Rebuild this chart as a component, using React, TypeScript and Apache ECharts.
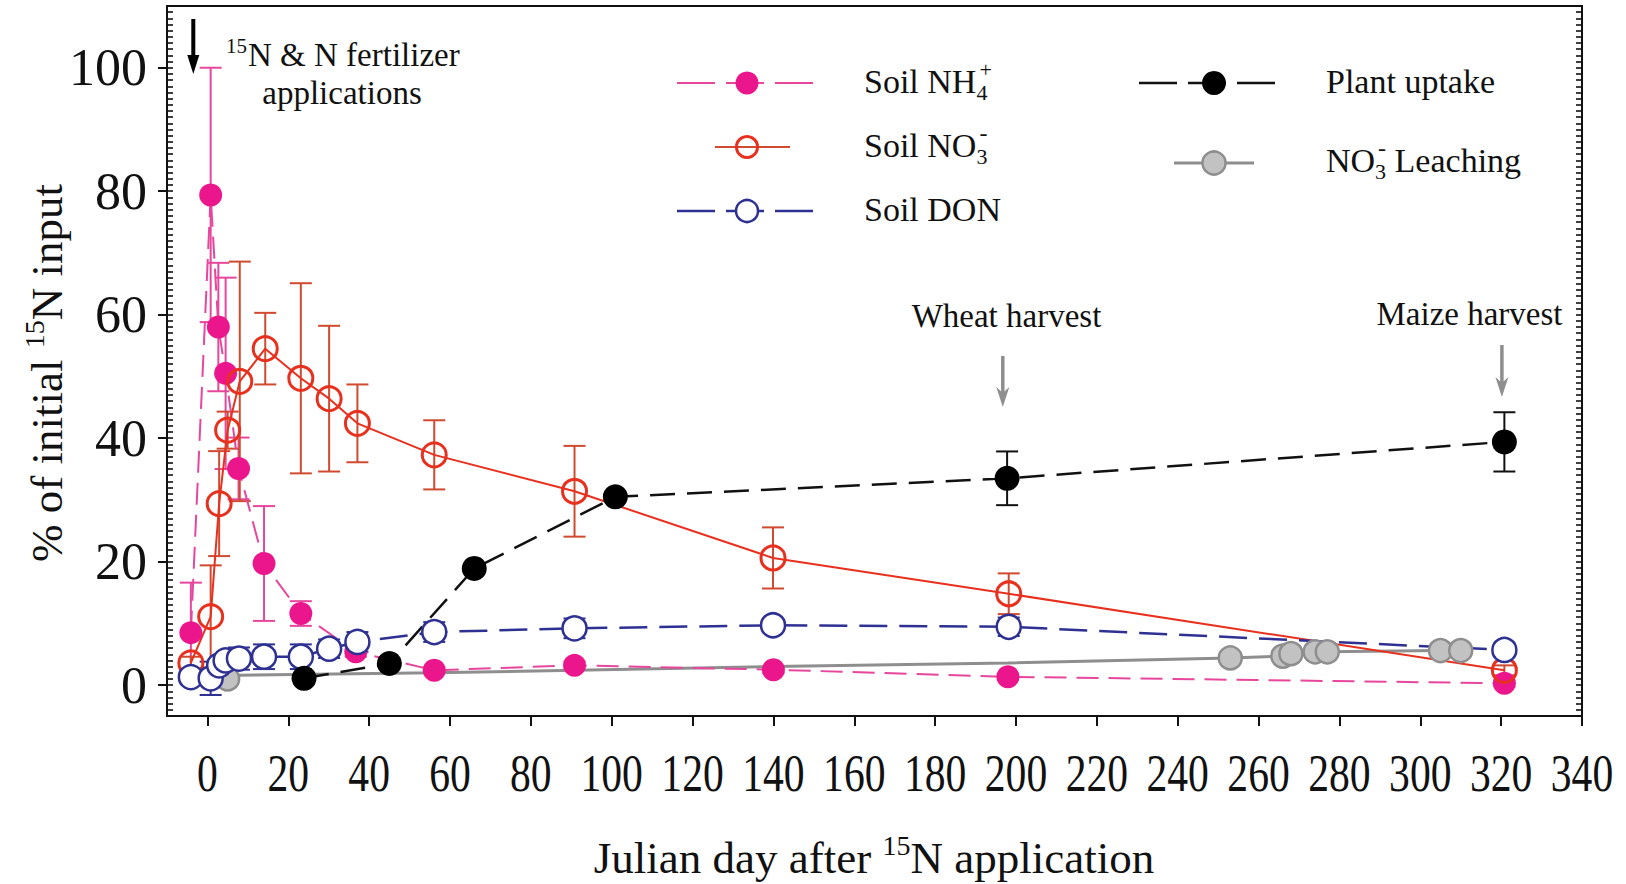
import React, { useEffect, useRef } from "react";
import * as echarts from "echarts";

const SERIF = '"Liberation Serif", "Times New Roman", Times, serif';

// Axis tick positions
const X_TICKS = [0, 20, 40, 60, 80, 100, 120, 140, 160, 180, 200, 220, 240, 260, 280, 300, 320, 340];
const Y_TICKS = [0, 20, 40, 60, 80, 100];

// Soil NH4+ (% of initial 15N input), mean and SD
const nh4Day = [-4.1, 0.8, 2.7, 4.5, 7.7, 14.0, 23.1, 36.7, 56.1, 90.8, 140.0, 198.0, 320.8];
const nh4Pct = [8.5, 79.4, 58.0, 50.5, 35.1, 19.7, 11.6, 5.4, 2.4, 3.2, 2.5, 1.35, 0.3];
const nh4Sd = [8.1, 20.6, 10.4, 15.5, 5.0, 9.3, 2.0, 0.8, 0.5, 0.6, 0.5, 0.5, 0.5];

// Soil NO3-
const no3Day = [-4.1, 0.8, 2.9, 5.0, 8.0, 14.3, 23.1, 30.1, 37.1, 56.1, 90.8, 139.9, 198.2, 320.8];
const no3Pct = [3.6, 11.1, 29.4, 41.3, 49.2, 54.5, 49.7, 46.4, 42.4, 37.3, 31.4, 20.6, 14.8, 2.4];
const no3Sd = [1.0, 8.3, 8.5, 3.0, 19.4, 5.8, 15.4, 11.8, 6.3, 5.6, 7.35, 4.95, 3.3, 0.8];

// Soil DON
const donDay = [-4.1, 0.8, 2.9, 4.5, 7.8, 14.0, 23.1, 30.1, 37.1, 56.1, 90.8, 139.9, 198.2, 320.8];
const donPct = [1.3, 1.1, 3.2, 4.0, 4.3, 4.6, 4.6, 5.9, 7.0, 8.6, 9.2, 9.7, 9.45, 5.7];
const donSd = [0.5, 2.7, 0.8, 0.8, 1.8, 2.0, 2.0, 1.5, 1.6, 1.6, 1.6, 1.0, 1.5, 0.8];

// Plant uptake
const plantDay = [23.9, 45.0, 66.0, 100.9, 197.8, 320.8];
const plantPct = [1.1, 3.5, 18.9, 30.5, 33.5, 39.4];
const plantSd = [0, 0, 0, 0, 4.35, 4.8];

// NO3- leaching (cumulative); unmarked entries are bends of the trace
const leachDay = [5, 8, 56, 91, 140, 198, 253, 266, 268, 274, 277, 305, 310];
const leachPct = [1.0, 1.6, 2.0, 2.4, 3.0, 3.6, 4.4, 4.7, 5.1, 5.4, 5.4, 5.6, 5.6];
const leachMarked = [true, false, false, false, false, false, true, true, true, true, true, true, true];

const PINK = "#ec168c";
const PINK_LINE = "#e6479d";
const RED = "#e8301e";
const RED_BAR = "#d04a30";
const NAVY = "#2e3192";
const GRAY_FILL = "#c2c2c2";
const GRAY_EDGE = "#8e8e8e";
const INK = "#111";

let measureCtx: CanvasRenderingContext2D | null = null;
function textWidth(t: string, size: number): number {
  if (!measureCtx) measureCtx = document.createElement("canvas").getContext("2d");
  measureCtx!.font = `${size}px ${SERIF}`;
  return measureCtx!.measureText(t).width;
}

function textStyle(text: string, size: number, fill: string, align: string) {
  return {
    text,
    fontSize: size,
    fontFamily: SERIF,
    fill,
    align,
    verticalAlign: "middle",
    textAlign: align,
    textVerticalAlign: "middle",
  };
}

type Run = { t: string; size: number; dy?: number; dx?: number; advance?: boolean };

function runs(items: Run[], x: number, y: number, anchor: "left" | "center", fill: string) {
  const widths = items.map((r) => textWidth(r.t, r.size));
  let total = 0;
  items.forEach((r, i) => {
    total += (r.dx || 0) + (r.advance === false ? 0 : widths[i]);
  });
  let cx = anchor === "center" ? x - total / 2 : x;
  return items.map((r, i) => {
    cx += r.dx || 0;
    const el = { type: "text", x: cx, y: y + (r.dy || 0), silent: true, style: textStyle(r.t, r.size, fill, "left") };
    if (r.advance !== false) cx += widths[i];
    return el;
  });
}

function errorSeries(days: number[], mean: number[], sd: number[], color: string) {
  const data = days
    .map((d, i) => [d, mean[i] - sd[i], mean[i] + sd[i], sd[i]])
    .filter((v) => v[3] > 0);
  return {
    type: "custom",
    silent: true,
    data,
    encode: { x: 0, y: [1, 2] },
    renderItem: (_p: any, api: any) => {
      const x = api.value(0);
      const top = api.coord([x, api.value(2)]);
      const bot = api.coord([x, api.value(1)]);
      const hw = 11;
      const style = { stroke: color, lineWidth: 2 };
      return {
        type: "group",
        children: [
          { type: "line", shape: { x1: top[0], y1: top[1], x2: bot[0], y2: bot[1] }, style },
          { type: "line", shape: { x1: top[0] - hw, y1: top[1], x2: top[0] + hw, y2: top[1] }, style },
          { type: "line", shape: { x1: bot[0] - hw, y1: bot[1], x2: bot[0] + hw, y2: bot[1] }, style },
        ],
      };
    },
  };
}

function pairs(days: number[], vals: number[]) {
  return days.map((d, i) => [d, vals[i]]);
}

function legendGraphics() {
  const els: any[] = [];
  const LS = 34;
  const SUB = 22;
  // column 1
  const c1 = 747;
  els.push({ type: "line", silent: true, shape: { x1: 677, y1: 83, x2: 813, y2: 83 }, style: { stroke: PINK_LINE, lineWidth: 2, lineDash: [38, 11] } });
  els.push({ type: "circle", silent: true, shape: { cx: c1, cy: 83, r: 11.5 }, style: { fill: PINK } });
  els.push({ type: "line", silent: true, shape: { x1: 715, y1: 147, x2: 790, y2: 147 }, style: { stroke: RED_BAR, lineWidth: 2 } });
  els.push({ type: "circle", silent: true, shape: { cx: c1, cy: 147, r: 10.5 }, style: { fill: "none", stroke: RED, lineWidth: 3 } });
  els.push({ type: "line", silent: true, shape: { x1: 677, y1: 211, x2: 813, y2: 211 }, style: { stroke: NAVY, lineWidth: 2.5, lineDash: [38, 11] } });
  els.push({ type: "circle", silent: true, shape: { cx: c1, cy: 211, r: 11 }, style: { fill: "#fff", stroke: NAVY, lineWidth: 2.5 } });
  const t1 = 864;
  els.push(...runs([{ t: "Soil NH", size: LS }, { t: "4", size: SUB, dy: 11, advance: false }, { t: "+", size: SUB, dy: -12, dx: 3 }], t1, 81, "left", INK));
  els.push(...runs([{ t: "Soil NO", size: LS }, { t: "3", size: SUB, dy: 11, advance: false }, { t: "-", size: SUB + 2, dy: -12, dx: 3 }], t1, 145, "left", INK));
  els.push(...runs([{ t: "Soil DON", size: LS }], t1, 209, "left", INK));
  // column 2
  const c2 = 1214;
  els.push({ type: "line", silent: true, shape: { x1: 1139, y1: 83, x2: 1277, y2: 83 }, style: { stroke: INK, lineWidth: 2.5, lineDash: [38, 11] } });
  els.push({ type: "circle", silent: true, shape: { cx: c2, cy: 83, r: 12 }, style: { fill: "#000" } });
  els.push({ type: "line", silent: true, shape: { x1: 1174, y1: 163, x2: 1254, y2: 163 }, style: { stroke: GRAY_EDGE, lineWidth: 3 } });
  els.push({ type: "circle", silent: true, shape: { cx: c2, cy: 163, r: 11.5 }, style: { fill: GRAY_FILL, stroke: GRAY_EDGE, lineWidth: 2.5 } });
  const t2 = 1326;
  els.push(...runs([{ t: "Plant uptake", size: LS }], t2, 81, "left", INK));
  els.push(...runs([{ t: "NO", size: LS }, { t: "3", size: SUB, dy: 11, advance: false }, { t: "-", size: SUB + 2, dy: -12, dx: 3 }, { t: " Leaching", size: LS }], t2, 160, "left", INK));
  return els;
}

function annotationGraphics() {
  const els: any[] = [];
  // fertilizer application arrow
  els.push({ type: "line", silent: true, shape: { x1: 193.3, y1: 19, x2: 193.3, y2: 60 }, style: { stroke: "#000", lineWidth: 4 } });
  els.push({ type: "polygon", silent: true, shape: { points: [[187.3, 55], [199.3, 55], [193.3, 74]] }, style: { fill: "#000" } });
  els.push(...runs([{ t: "15", size: 21, dy: -9 }, { t: "N & N fertilizer", size: 33, dx: 1 }], 226, 55, "left", INK));
  els.push(...runs([{ t: "applications", size: 33 }], 342, 93, "center", INK));
  // harvest markers
  const arrows = [
    { x: 1002.8, y0: 356, y1: 407 },
    { x: 1501.9, y0: 345, y1: 397 },
  ];
  arrows.forEach((a) => {
    els.push({ type: "line", silent: true, shape: { x1: a.x, y1: a.y0, x2: a.x, y2: a.y1 - 14 }, style: { stroke: GRAY_EDGE, lineWidth: 3.5 } });
    els.push({ type: "polygon", silent: true, shape: { points: [[a.x - 6.5, a.y1 - 20], [a.x, a.y1 - 14], [a.x + 6.5, a.y1 - 20], [a.x, a.y1]] }, style: { fill: GRAY_EDGE } });
  });
  els.push(...runs([{ t: "Wheat harvest", size: 33 }], 1006.5, 316, "center", INK));
  els.push(...runs([{ t: "Maize harvest", size: 33 }], 1469.5, 314, "center", INK));
  // axis titles
  els.push(...runs([{ t: "Julian day after ", size: 45 }, { t: "15", size: 28, dy: -13 }, { t: "N application", size: 45 }], 874, 858, "center", INK));
  els.push({
    type: "group",
    x: 47,
    y: 373,
    rotation: Math.PI / 2,
    children: runs([{ t: "% of initial ", size: 45 }, { t: "15", size: 28, dy: -13 }, { t: "N input", size: 45 }], 0, 0, "center", INK),
  });
  return els;
}

export default function App() {
  const ref = useRef<HTMLDivElement>(null);

  useEffect(() => {
    if (!ref.current) return;
    const chart = echarts.init(ref.current, undefined, { renderer: "svg" });

    const yBase = { type: "value", min: -5, max: 110, splitLine: { show: false }, axisLine: { show: false, onZero: false } };

    const option: any = {
      animation: false,
      backgroundColor: "#fff",
      grid: { left: 167, top: 6, width: 1415, height: 710, show: true, borderColor: INK, borderWidth: 2, backgroundColor: "transparent" },
      xAxis: [
        {
          type: "value",
          min: -10,
          max: 340,
          interval: 10,
          axisLine: { show: false, onZero: false },
          splitLine: { show: false },
          axisTick: { show: true, inside: false, length: 10, lineStyle: { color: INK, width: 2 }, customValues: X_TICKS },
          // tick labels are drawn condensed as graphic text below
          axisLabel: { show: false },
        },
      ],
      yAxis: [
        {
          ...yBase,
          interval: 5,
          position: "left",
          axisTick: { show: true, inside: false, length: 9, lineStyle: { color: INK, width: 2 }, customValues: Y_TICKS },
          axisLabel: {
            customValues: Y_TICKS,
            fontFamily: SERIF,
            fontSize: 52,
            color: INK,
            margin: 20,
            formatter: (v: number) => (v % 20 === 0 && v >= 0 && v <= 100 ? String(v) : ""),
          },
        },
        {
          ...yBase,
          interval: 1,
          position: "left",
          axisTick: { show: true, inside: true, length: 6, lineStyle: { color: INK, width: 1.6 } },
          axisLabel: { show: false },
        },
        {
          ...yBase,
          interval: 1,
          position: "right",
          axisTick: { show: true, inside: true, length: 6, lineStyle: { color: INK, width: 1.6 } },
          axisLabel: { show: false },
        },
      ],
      series: [
        {
          name: "NO3- Leaching",
          type: "line",
          silent: true,
          data: leachDay.map((d, i) => ({ value: [d, leachPct[i]], symbolSize: leachMarked[i] ? 23 : 0 })),
          symbol: "circle",
          lineStyle: { color: GRAY_EDGE, width: 3 },
          itemStyle: { color: GRAY_FILL, borderColor: GRAY_EDGE, borderWidth: 2.5 },
        },
        errorSeries(nh4Day, nh4Pct, nh4Sd, PINK_LINE),
        {
          name: "Soil NH4+",
          type: "line",
          silent: true,
          data: pairs(nh4Day, nh4Pct),
          symbol: "circle",
          symbolSize: 23,
          lineStyle: { color: PINK_LINE, width: 2, type: [22, 10] },
          itemStyle: { color: PINK },
        },
        errorSeries(no3Day, no3Pct, no3Sd, RED_BAR),
        {
          name: "Soil NO3-",
          type: "line",
          silent: true,
          data: pairs(no3Day, no3Pct),
          symbol: "circle",
          symbolSize: 24,
          lineStyle: { color: RED, width: 2 },
          itemStyle: { color: "rgba(255,255,255,0)", borderColor: RED, borderWidth: 3 },
        },
        errorSeries(donDay, donPct, donSd, NAVY),
        {
          name: "Soil DON",
          type: "line",
          silent: true,
          data: pairs(donDay, donPct),
          symbol: "circle",
          symbolSize: 24,
          lineStyle: { color: NAVY, width: 2.5, type: [28, 12] },
          itemStyle: { color: "#fff", borderColor: NAVY, borderWidth: 2.5 },
        },
        errorSeries(plantDay, plantPct, plantSd, INK),
        {
          name: "Plant uptake",
          type: "line",
          silent: true,
          data: pairs(plantDay, plantPct),
          symbol: "circle",
          symbolSize: 25,
          lineStyle: { color: INK, width: 2.5, type: [25, 12] },
          itemStyle: { color: "#000" },
        },
      ],
    };

    chart.setOption(option);

    // x tick labels, placed through the x axis scale and drawn condensed
    const xLabels = X_TICKS.map((v) => {
      const px = chart.convertToPixel({ xAxisIndex: 0 }, v) as number;
      return { type: "text", x: px, y: 773, scaleX: 0.8, silent: true, style: textStyle(String(v), 52, INK, "center") };
    });

    chart.setOption({ graphic: { elements: [...legendGraphics(), ...annotationGraphics(), ...xLabels] } });
    return () => chart.dispose();
  }, []);

  return (
    <div
      ref={ref}
      style={{ position: "fixed", left: 0, top: 0, width: 1626, height: 884, background: "#fff" }}
    />
  );
}
